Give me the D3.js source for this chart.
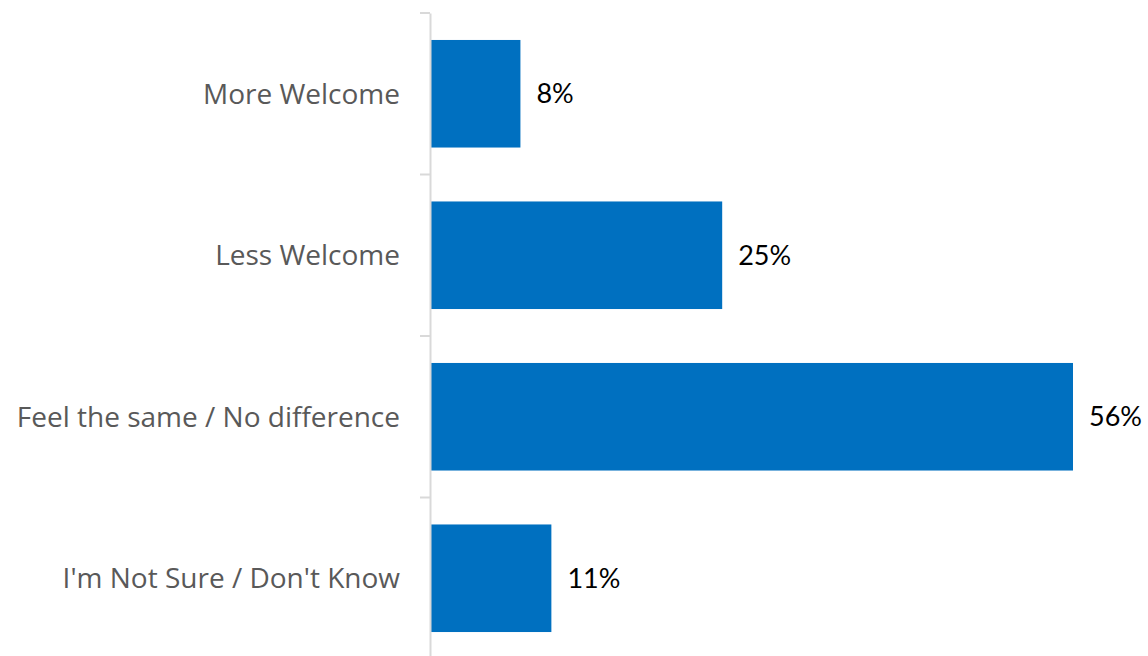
<!DOCTYPE html>
<html><head><meta charset="utf-8">
<script src="https://cdn.jsdelivr.net/npm/d3@7"></script>
<style>html,body{margin:0;padding:0;background:#fff;}svg{display:block;}</style>
</head><body>
<svg id="chart" width="1148" height="656"></svg>
<script>
const categories = ["More Welcome", "Less Welcome", "Feel the same / No difference", "I'm Not Sure / Don't Know"];
const values = [0.078, 0.254, 0.56, 0.105];
const labels = ["8%", "25%", "56%", "11%"];

const W = 1148, H = 656;
const margin = {left: 431, right: 75, top: 13, bottom: -3};
const svg = d3.select("#chart");
const font = "Lato, 'Open Sans', sans-serif";
const catFont = "'Open Sans', Lato, sans-serif";

const y = d3.scaleBand().domain(categories).range([margin.top, H - margin.bottom]).paddingInner(0.334).paddingOuter(0.167);
const x = d3.scaleLinear().domain([0, d3.max(values)]).range([margin.left, W - margin.right]);

svg.selectAll("rect.bar").data(categories).join("rect").attr("class","bar")
  .attr("x", x(0)).attr("y", d => y(d))
  .attr("width", (d,i) => x(values[i]) - x(0)).attr("height", y.bandwidth())
  .attr("fill", "#0070c0");

const axis = svg.append("g").attr("transform", `translate(${margin.left - 1},0)`)
  .call(d3.axisLeft(y).tickSize(0).tickFormat("").tickSizeOuter(0));
axis.select(".domain").attr("stroke", "#d9d9d9").attr("stroke-width", 2);
axis.selectAll(".tick").remove();
const bounds = categories.map(c => y(c) - y.step()*y.paddingInner()/2).concat([y(categories[categories.length-1]) + y.bandwidth() + y.step()*y.paddingInner()/2]);
svg.selectAll("line.tk").data(bounds).join("line").attr("class","tk")
  .attr("x1", margin.left - 11).attr("x2", margin.left - 1)
  .attr("y1", d => d).attr("y2", d => d)
  .attr("stroke", "#d9d9d9").attr("stroke-width", 2);

svg.selectAll("text.cat").data(categories).join("text").attr("class","cat")
  .attr("x", margin.left - 31).attr("y", d => y(d) + y.bandwidth()/2)
  .attr("dy", "0.35em").attr("text-anchor", "end")
  .attr("font-family", catFont).attr("font-size", 28).attr("fill", "#595959")
  .text(d => d);

svg.selectAll("text.val").data(categories).join("text").attr("class","val")
  .attr("x", (d,i) => x(values[i]) + 16).attr("y", d => y(d) + y.bandwidth()/2)
  .attr("dy", "0.35em")
  .attr("font-family", font).attr("font-size", 27).attr("fill", "#000")
  .text((d,i) => labels[i]);
</script>
</body></html>
